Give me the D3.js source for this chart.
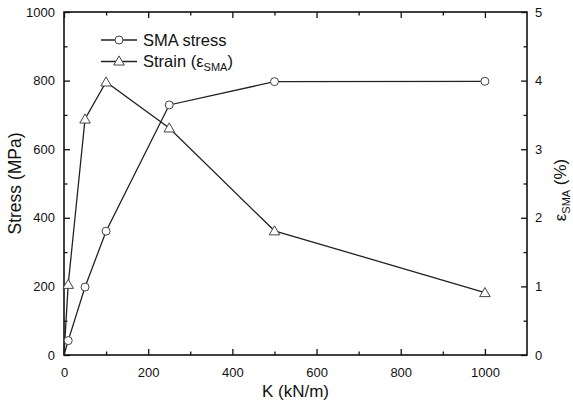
<!DOCTYPE html>
<html>
<head>
<meta charset="utf-8">
<script src="https://cdn.jsdelivr.net/npm/d3@7"></script>
<style>
  body { margin: 0; background: #fff; }
  svg text { font-family: "Liberation Sans", Arial, sans-serif; fill: #111; }
</style>
</head>
<body>
<svg id="chart" width="573" height="406"></svg>
<script>
// values
var kValues = [0, 10, 50, 100, 250, 500, 1000];
var stressValues = [0, 42, 198, 361, 729, 797, 798];
var strainValues = [0, 1.03, 3.44, 3.98, 3.31, 1.81, 0.91];

var xTicks = [0, 200, 400, 600, 800, 1000];
var stressTicks = [0, 200, 400, 600, 800, 1000];
var strainTicks = [0, 1, 2, 3, 4, 5];

var svg = d3.select("#chart");
var plotL = 64, plotR = 527, plotT = 12, plotB = 355;

var x = d3.scaleLinear().domain([0, 1100]).range([plotL, plotR]);
var yL = d3.scaleLinear().domain([0, 1000]).range([plotB, plotT]);
var yR = d3.scaleLinear().domain([0, 5]).range([plotB, plotT]);

// minor ticks
var xMinor = d3.range(100, 1100, 200);
var yLMinor = d3.range(100, 1000, 200);
var yRMinor = d3.range(0.5, 5, 1);

function drawAxis(gen, tx, ty) {
  var g = svg.append("g").attr("transform", "translate(" + tx + "," + ty + ")").call(gen);
  g.select(".domain").remove();
  g.selectAll("line").attr("stroke", "#111").attr("stroke-width", 1.3);
  g.selectAll("text").style("font-size", "13px").attr("fill", "#111");
  return g;
}

// bottom
drawAxis(d3.axisBottom(x).tickValues(xTicks).tickSize(-6).tickPadding(13).tickFormat(d3.format("d")), 0, plotB);
drawAxis(d3.axisBottom(x).tickValues(xMinor).tickSize(-3.5).tickFormat(""), 0, plotB);
// top
drawAxis(d3.axisTop(x).tickValues(xTicks).tickSize(-6).tickFormat(""), 0, plotT);
drawAxis(d3.axisTop(x).tickValues(xMinor).tickSize(-3.5).tickFormat(""), 0, plotT);
// left
drawAxis(d3.axisLeft(yL).tickValues(stressTicks).tickSize(-6).tickPadding(9).tickFormat(d3.format("d")), plotL, 0);
drawAxis(d3.axisLeft(yL).tickValues(yLMinor).tickSize(-3.5).tickFormat(""), plotL, 0);
// right
drawAxis(d3.axisRight(yR).tickValues(strainTicks).tickSize(-6).tickPadding(8).tickFormat(d3.format("d")), plotR, 0);
drawAxis(d3.axisRight(yR).tickValues(yRMinor).tickSize(-3.5).tickFormat(""), plotR, 0);

// frame
svg.append("rect")
  .attr("x", plotL).attr("y", plotT)
  .attr("width", plotR - plotL).attr("height", plotB - plotT)
  .attr("fill", "none").attr("stroke", "#111").attr("stroke-width", 1.6);

var stressData = kValues.map(function(k, i) { return {k: k, v: stressValues[i]}; });
var strainData = kValues.map(function(k, i) { return {k: k, v: strainValues[i]}; });

var lineL = d3.line().x(function(d) { return x(d.k); }).y(function(d) { return yL(d.v); });
var lineR = d3.line().x(function(d) { return x(d.k); }).y(function(d) { return yR(d.v); });

svg.append("path").datum(stressData).attr("d", lineL)
  .attr("fill", "none").attr("stroke", "#222").attr("stroke-width", 1.3);
svg.append("path").datum(strainData).attr("d", lineR)
  .attr("fill", "none").attr("stroke", "#222").attr("stroke-width", 1.3);

var tri = d3.symbol().type(d3.symbolTriangle).size(48);

svg.selectAll(".circ").data(stressData.filter(function(d) { return d.k > 0; }))
  .enter().append("circle")
  .attr("cx", function(d) { return x(d.k); })
  .attr("cy", function(d) { return yL(d.v); })
  .attr("r", 4)
  .attr("fill", "#fff").attr("stroke", "#444").attr("stroke-width", 1);

svg.selectAll(".tri").data(strainData.filter(function(d) { return d.k > 0; }))
  .enter().append("path")
  .attr("d", tri)
  .attr("transform", function(d) { return "translate(" + x(d.k) + "," + (yR(d.v) + 1) + ")"; })
  .attr("fill", "#fff").attr("stroke", "#444").attr("stroke-width", 1);

// legend
var leg = svg.append("g");
leg.append("line").attr("x1", 101).attr("x2", 137).attr("y1", 40).attr("y2", 40)
  .attr("stroke", "#222").attr("stroke-width", 1.3);
leg.append("circle").attr("cx", 119).attr("cy", 40).attr("r", 4)
  .attr("fill", "#fff").attr("stroke", "#444");
leg.append("text").attr("x", 143).attr("y", 46).style("font-size", "16.5px").text("SMA stress");

leg.append("line").attr("x1", 101).attr("x2", 137).attr("y1", 61.5).attr("y2", 61.5)
  .attr("stroke", "#222").attr("stroke-width", 1.3);
leg.append("path").attr("d", tri).attr("transform", "translate(119,62)")
  .attr("fill", "#fff").attr("stroke", "#444");
var t2 = leg.append("text").attr("x", 143).attr("y", 67).style("font-size", "16.5px");
t2.append("tspan").text("Strain (\u03b5");
t2.append("tspan").attr("dy", 4).style("font-size", "11px").text("SMA");
t2.append("tspan").attr("dy", -4).text(")");

// axis titles
svg.append("text")
  .attr("x", (plotL + plotR) / 2).attr("y", 397)
  .attr("text-anchor", "middle").style("font-size", "17px")
  .text("K (kN/m)");

svg.append("text")
  .attr("transform", "translate(21," + ((plotT + plotB) / 2) + ") rotate(-90)")
  .attr("text-anchor", "middle").style("font-size", "17.5px")
  .text("Stress (MPa)");

var rt = svg.append("text")
  .attr("transform", "translate(566,190) rotate(-90)")
  .attr("text-anchor", "middle").style("font-size", "17px");
rt.append("tspan").text("\u03b5");
rt.append("tspan").attr("dy", 4).style("font-size", "11px").text("SMA");
rt.append("tspan").attr("dy", -4).text(" (%)");
</script>
</body>
</html>
